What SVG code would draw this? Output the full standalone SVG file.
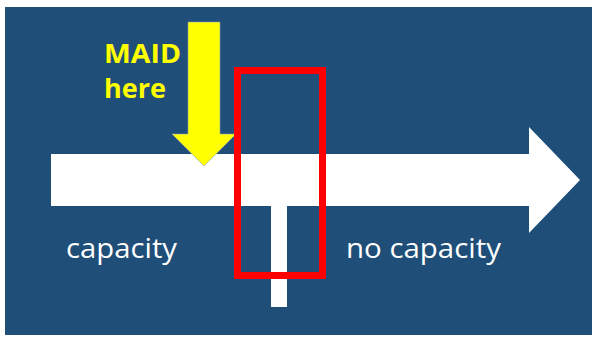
<svg xmlns="http://www.w3.org/2000/svg" width="592" height="337" viewBox="0 0 592 337">
<style>
.lbl{font-family:"Open Sans","Liberation Sans",sans-serif;fill:#FFFFFF;font-size:27px}
.maid{font-family:"Open Sans","Liberation Sans",sans-serif;fill:#FFFF00;font-size:27px;font-weight:bold}
</style>
<rect x="0" y="0" width="592" height="337" fill="#FFFFFF"/>
<rect x="5" y="7" width="587" height="328" fill="#1F4E79"/>
<g id="timeline">
<polygon points="51,154 529,154 529,127 580,180 529,233 529,206 51,206" fill="#FFFFFF"/>
<rect x="271" y="205" width="16" height="102" fill="#FFFFFF"/>
</g>
<g id="maid-arrow">
<polygon points="188,22 220,22 220,134 236,134 204,166 172,134 188,134" fill="#FFFF00" stroke="#8FA6BF" stroke-width="0.6"/>
</g>
<g id="maid-label">
<text class="maid" x="104" y="63" textLength="77" lengthAdjust="spacingAndGlyphs">MAID</text>
<text class="maid" x="104" y="98" textLength="62" lengthAdjust="spacingAndGlyphs">here</text>
</g>
<g id="highlight">
<rect x="237.5" y="70.5" width="85" height="205" fill="none" stroke="#FF0000" stroke-width="7"/>
</g>
<g id="capacity">
<text class="lbl" x="66" y="258" textLength="111" lengthAdjust="spacingAndGlyphs">capacity</text>
</g>
<g id="no-capacity">
<text class="lbl" x="346" y="258" textLength="155" lengthAdjust="spacingAndGlyphs">no capacity</text>
</g>
</svg>
